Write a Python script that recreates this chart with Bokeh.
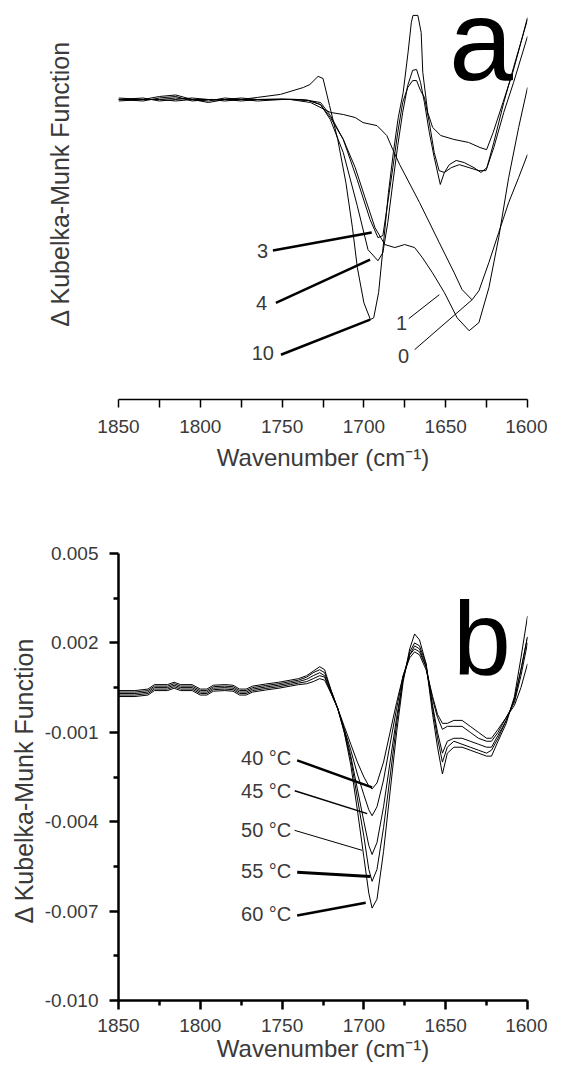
from bokeh.plotting import figure
from bokeh.models import Range1d, FixedTicker, PrintfTickFormatter, Label, ColumnDataSource
from bokeh.layouts import column
from bokeh.embed import file_html
from bokeh.resources import INLINE
from bokeh.core.properties import value

FONT = "Liberation Sans"
TXT = "#3a3a3a"

# ---------------- axis ticks ----------------
wn_ticks = [1850, 1800, 1750, 1700, 1650, 1600]
wn_minor = [1825, 1775, 1725, 1675, 1625]
b_yticks = [0.005, 0.002, -0.001, -0.004, -0.007, -0.010]
b_yminor = [0.0035, 0.0005, -0.0025, -0.0055, -0.0085]

# ---------------- panel a (relative units, x1e-3) ----------------
a_wn_10 = [1850, 1835, 1825, 1815, 1805, 1795, 1785, 1775, 1765, 1751, 1737, 1733, 1728, 1725, 1721,
           1716, 1711, 1707, 1704, 1700, 1696, 1694, 1691, 1688, 1685, 1682, 1679, 1676, 1673, 1671,
           1670, 1667, 1665, 1664, 1661, 1658, 1653, 1645, 1636, 1629, 1625, 1621, 1615, 1609, 1604, 1600]
a_km_10 = [0.35, 0.3, 0.4, 0.45, 0.3, 0.25, 0.35, 0.3, 0.37, 0.47, 0.7, 0.8, 1.07, 1.0, 0.1,
           -1.03, -2.47, -3.97, -5.3, -6.47, -7.03, -6.97, -6.13, -4.47, -2.8, -1.47, -0.3, 0.53, 1.87, 2.87,
           3.1, 3.1, 2.53, 1.2, -0.13, -0.63, -0.9, -1.03, -1.13, -1.3, -1.37, -0.8, 0.2, 1.2, 2.2, 3.03]

a_wn_4 = [1850, 1835, 1825, 1815, 1805, 1795, 1785, 1775, 1765, 1750, 1740, 1734, 1726.5, 1720.5, 1712.6,
          1704.1, 1697.5, 1691.4, 1688.4, 1685.4, 1682.3, 1679.3, 1676.3, 1673.2, 1670.2, 1667.8, 1665.4,
          1663, 1660, 1657, 1653.3, 1650.8, 1647.8, 1643.6, 1638.7, 1632.7, 1628.5, 1624.8, 1620.6, 1614.5,
          1608.5, 1600]
a_km_4 = [0.3, 0.25, 0.35, 0.4, 0.25, 0.3, 0.3, 0.25, 0.3, 0.32, 0.3, 0.27, 0.13, -0.37, -1.47,
          -3.23, -4.7, -5.07, -4.8, -3.8, -2.47, -1.23, -0.13, 0.77, 1.27, 1.3, 0.87,
          0.2, -0.8, -1.63, -2.53, -2.13, -1.87, -1.73, -1.8, -1.97, -2.13, -1.97, -1.13, 0.2,
          1.37, 2.97]

a_wn_3 = [1850, 1835, 1825, 1815, 1805, 1795, 1785, 1775, 1765, 1750, 1740, 1734, 1726.5, 1720.5, 1712.6,
          1704.1, 1696.2, 1691.4, 1688.4, 1685.4, 1682.3, 1679.3, 1676.3, 1673.2, 1670.2, 1667.8, 1665.4,
          1663, 1660, 1657, 1654, 1650.8, 1646.6, 1641.7, 1635.7, 1629.7, 1625.4, 1620.6, 1614.5, 1608.5, 1600]
a_km_3 = [0.25, 0.3, 0.3, 0.35, 0.3, 0.2, 0.3, 0.3, 0.25, 0.3, 0.3, 0.27, 0.2, -0.23, -1.03,
          -2.37, -3.7, -4.3, -4.23, -3.13, -1.97, -0.8, 0.2, 0.7, 0.93, 0.93, 0.6,
          0.37, -0.47, -1.47, -2.07, -2.13, -1.97, -1.87, -1.97, -2.07, -2.07, -1.3, -0.13, 0.87, 2.4]

a_wn_1 = [1850, 1835, 1825, 1815, 1805, 1795, 1785, 1775, 1765, 1755, 1745, 1734, 1726.5, 1720.5, 1712.6,
          1705.3, 1699.3, 1693.2, 1687.2, 1681.1, 1675.1, 1669, 1664.2, 1658.1, 1650.8, 1643, 1635.7,
          1629.7, 1623.6, 1617.6, 1611.5, 1605.4, 1600]
a_km_1 = [0.3, 0.35, 0.25, 0.3, 0.35, 0.3, 0.25, 0.3, 0.3, 0.3, 0.3, 0.27, 0.13, -0.3, -1.03,
          -1.97, -2.97, -3.97, -4.53, -4.63, -4.53, -4.63, -4.97, -5.47, -6.13, -6.97, -7.4,
          -7.13, -5.97, -4.3, -2.3, -0.63, 0.7]

a_wn_0 = [1850, 1835, 1825, 1815, 1805, 1795, 1785, 1775, 1765, 1755, 1745, 1732.6, 1720.5, 1712.6,
          1705.3, 1700.5, 1692, 1686, 1682.3, 1678.1, 1666, 1653.9, 1644.8, 1640, 1633.9, 1629.7,
          1623.6, 1617.6, 1611.5, 1605.4, 1600]
a_km_0 = [0.3, 0.3, 0.3, 0.25, 0.3, 0.3, 0.3, 0.35, 0.3, 0.3, 0.3, 0.2, -0.13, -0.2,
          -0.3, -0.47, -0.57, -0.9, -1.37, -1.87, -3.13, -4.47, -5.47, -6.03, -6.37, -6.07,
          -5.13, -4.13, -3.13, -2.3, -1.53]

a_series = [(a_wn_0, a_km_0), (a_wn_1, a_km_1), (a_wn_3, a_km_3), (a_wn_4, a_km_4), (a_wn_10, a_km_10)]

# labels of panel a: text, anchor, leader line
a_lab_text = ["3", "4", "10", "1", "0"]
a_lab_x = [1758.6, 1759.2, 1755.0, 1677.0, 1675.7]
a_lab_y = [-4.73, -6.47, -8.13, -7.13, -8.23]
a_lab_align = ["right", "right", "right", "center", "center"]
a_lead_x0 = [1755.6, 1753.8, 1750.7, 1672.6, 1669.0]
a_lead_y0 = [-4.73, -6.47, -8.20, -7.00, -8.03]
a_lead_x1 = [1695.2, 1696.2, 1696.2, 1653.9, 1633.9]
a_lead_y1 = [-4.13, -5.03, -7.03, -6.20, -6.37]
a_lead_w = [2.5, 2.5, 2.5, 1.0, 1.0]

# ---------------- panel b ----------------
b_wn = [1850, 1840, 1832, 1828, 1820, 1816, 1812, 1805, 1800, 1796, 1792, 1785, 1780, 1776, 1772,
        1768, 1760, 1752, 1745, 1740, 1735, 1731, 1727, 1724, 1720, 1716, 1712, 1708, 1704, 1700,
        1697, 1695, 1692, 1688, 1684, 1680, 1676, 1672, 1669, 1666, 1662, 1658, 1655, 1652, 1649,
        1645, 1640, 1635, 1630, 1625, 1622, 1618, 1613, 1608, 1604, 1600]
b_40 = [0.0002, 0.0002, 0.00025, 0.0004, 0.0004, 0.00048, 0.0004, 0.0004, 0.00025, 0.00025, 0.00038,
        0.0004, 0.00038, 0.00025, 0.00025, 0.00035, 0.00042, 0.00048, 0.00055, 0.0006, 0.00063, 0.0007,
        0.0008, 0.00075, 0.0003, -0.0002, -0.0008, -0.0014, -0.0020, -0.0025, -0.0028, -0.0029, -0.0027,
        -0.0020, -0.0010, 0.0000, 0.0009, 0.0015, 0.0017, 0.0016, 0.0011, 0.0002, -0.0004, -0.0007,
        -0.0007, -0.0006, -0.0006, -0.0008, -0.0010, -0.0012, -0.0012, -0.0009, -0.0005, -0.0001,
        0.0005, 0.0013]
b_45 = [0.00025, 0.00025, 0.0003, 0.00045, 0.00045, 0.00053, 0.00045, 0.00045, 0.0003, 0.0003, 0.00043,
        0.00045, 0.00043, 0.0003, 0.0003, 0.0004, 0.00047, 0.00053, 0.0006, 0.00065, 0.0007, 0.0008,
        0.0009, 0.00085, 0.0003, -0.0002, -0.0009, -0.0016, -0.0024, -0.0031, -0.0036, -0.0038, -0.0035,
        -0.0026, -0.0014, -0.0002, 0.0009, 0.0016, 0.0018, 0.0017, 0.0012, 0.0001, -0.0005, -0.0009,
        -0.0008, -0.0008, -0.0008, -0.0010, -0.0012, -0.0013, -0.0013, -0.0010, -0.0005, 0.0000,
        0.0009, 0.0020]
b_50 = [0.0003, 0.0003, 0.00035, 0.0005, 0.0005, 0.00058, 0.0005, 0.0005, 0.00035, 0.00035, 0.00048,
        0.0005, 0.00048, 0.00035, 0.00035, 0.00045, 0.00052, 0.00058, 0.00065, 0.0007, 0.00078, 0.0009,
        0.0010, 0.0009, 0.00035, -0.0002, -0.0009, -0.0018, -0.0029, -0.0040, -0.0048, -0.0051, -0.0047,
        -0.0035, -0.0020, -0.0005, 0.0008, 0.0016, 0.0019, 0.0018, 0.0012, -0.0001, -0.0010, -0.0017,
        -0.0013, -0.0012, -0.0012, -0.0013, -0.0014, -0.0015, -0.0015, -0.0011, -0.0006, 0.0001,
        0.0011, 0.0022]
b_55 = [0.00035, 0.00035, 0.0004, 0.00055, 0.00055, 0.00063, 0.00055, 0.00055, 0.0004, 0.0004, 0.00053,
        0.00055, 0.00053, 0.0004, 0.0004, 0.0005, 0.00057, 0.00063, 0.0007, 0.00075, 0.00085, 0.0010,
        0.0011, 0.0010, 0.0004, -0.0002, -0.0010, -0.0019, -0.0032, -0.0045, -0.0056, -0.0060, -0.0056,
        -0.0042, -0.0025, -0.0007, 0.0008, 0.0017, 0.0020, 0.0019, 0.0013, -0.0002, -0.0012, -0.0020,
        -0.0015, -0.0013, -0.0014, -0.0015, -0.0016, -0.0017, -0.0016, -0.0012, -0.0006, 0.0001,
        0.0011, 0.0022]
b_60 = [0.0004, 0.0004, 0.00045, 0.0006, 0.0006, 0.00068, 0.0006, 0.0006, 0.00045, 0.00045, 0.00058,
        0.0006, 0.00058, 0.00045, 0.00045, 0.00055, 0.00062, 0.00068, 0.00075, 0.0008, 0.0009, 0.00105,
        0.0012, 0.0011, 0.0004, -0.0002, -0.0010, -0.0021, -0.0036, -0.0052, -0.0064, -0.0069, -0.0066,
        -0.0050, -0.0030, -0.0010, 0.0007, 0.0018, 0.0023, 0.0021, 0.0013, -0.0004, -0.0015, -0.0024,
        -0.0017, -0.0015, -0.0015, -0.0016, -0.0017, -0.0018, -0.0018, -0.0013, -0.0007, 0.0002,
        0.0015, 0.0029]
b_series = [b_40, b_45, b_50, b_55, b_60]

b_lab_text = ["40 \u00b0C", "45 \u00b0C", "50 \u00b0C", "55 \u00b0C", "60 \u00b0C"]
b_lab_x = [1744.4, 1744.4, 1744.4, 1744.4, 1744.4]
b_lab_y = [-0.00185, -0.00296, -0.00429, -0.00567, -0.0071]
b_lead_x0 = [1740.8, 1742.3, 1742.4, 1740.8, 1740.8]
b_lead_y0 = [-0.00194, -0.00296, -0.00429, -0.0057, -0.00715]
b_lead_x1 = [1695.0, 1698.0, 1701.1, 1696.0, 1698.9]
b_lead_y1 = [-0.00285, -0.00373, -0.00496, -0.00584, -0.00672]
b_lead_w = [2.5, 1.5, 1.0, 3.0, 2.5]

XTITLE = "Wavenumber (cm\u207b\u00b9)"
YTITLE = "\u0394  Kubelka-Munk Function"
# panel a's title sits higher than the centre of its frame: pad its lower end
YTITLE_A = "\u00a0" * 6 + YTITLE


def style_common(p):
    p.outline_line_color = None
    p.grid.visible = False
    p.background_fill_color = "white"
    p.border_fill_color = "white"


def style_xaxis(ax, tick_len_major, tick_len_minor, lw, standoff, title_standoff):
    ax.ticker = FixedTicker(ticks=wn_ticks, minor_ticks=wn_minor)
    ax.axis_line_width = lw
    ax.axis_line_color = "black"
    ax.major_tick_in = 0
    ax.major_tick_out = tick_len_major
    ax.minor_tick_in = 0
    ax.minor_tick_out = tick_len_minor
    ax.major_tick_line_width = lw
    ax.minor_tick_line_width = lw
    ax.major_tick_line_color = "black"
    ax.minor_tick_line_color = "black"
    ax.major_label_text_font = FONT
    ax.major_label_text_font_size = "19px"
    ax.major_label_text_color = TXT
    ax.major_label_standoff = standoff
    ax.axis_label = XTITLE
    ax.axis_label_text_font = FONT
    ax.axis_label_text_font_size = "24px"
    ax.axis_label_text_font_style = "normal"
    ax.axis_label_text_color = TXT
    ax.axis_label_standoff = title_standoff


def style_ytitle(ax, text, standoff):
    ax.axis_label = text
    ax.axis_label_text_font = FONT
    ax.axis_label_text_font_size = "25px"
    ax.axis_label_text_font_style = "normal"
    ax.axis_label_text_color = TXT
    ax.axis_label_standoff = standoff


# ---------------- figure a ----------------
pa = figure(width=547, height=512, x_range=Range1d(1850, 1600), y_range=Range1d(-9.69, 3.53),
            output_backend="svg", toolbar_location=None,
            min_border_left=118, min_border_right=16, min_border_top=2, min_border_bottom=113)
style_common(pa)
style_xaxis(pa.xaxis[0], 8, 8, 1.5, 12, 8)

ay = pa.yaxis[0]
ay.ticker = FixedTicker(ticks=[])
ay.axis_line_color = None
ay.major_tick_line_color = None
ay.minor_tick_line_color = None
ay.major_tick_in = 0
ay.major_tick_out = 0
ay.minor_tick_in = 0
ay.minor_tick_out = 0
style_ytitle(ay, YTITLE_A, 45)

for wn, km in a_series:
    pa.line(wn, km, line_color="black", line_width=1)

pa.segment(x0=a_lead_x0, y0=a_lead_y0, x1=a_lead_x1, y1=a_lead_y1, line_color="black",
           line_width=a_lead_w)
src_a = ColumnDataSource(dict(x=a_lab_x, y=a_lab_y, t=a_lab_text, al=a_lab_align))
pa.text(x="x", y="y", text="t", text_align="al", text_baseline="middle", source=src_a,
        text_font=value(FONT), text_font_size="20px", text_color=TXT)

pa.add_layout(Label(x=1628.5, y=2.27, text="a", text_align="center", text_baseline="alphabetic",
                    text_font=FONT, text_font_size="115px", text_color="black"))

# ---------------- figure b ----------------
pb = figure(width=547, height=554, x_range=Range1d(1850, 1600), y_range=Range1d(-0.010, 0.005),
            output_backend="svg", toolbar_location=None,
            min_border_left=114, min_border_right=20, min_border_top=41, min_border_bottom=66)
style_common(pb)
style_xaxis(pb.xaxis[0], 9, 5, 2.5, 9, 0)

yb = pb.yaxis[0]
yb.ticker = FixedTicker(ticks=b_yticks, minor_ticks=b_yminor)
yb.formatter = PrintfTickFormatter(format="%.3f")
yb.axis_line_width = 2.5
yb.major_tick_in = 0
yb.major_tick_out = 9
yb.minor_tick_in = 0
yb.minor_tick_out = 5
yb.major_tick_line_width = 2.5
yb.minor_tick_line_width = 2.5
yb.major_label_text_font = FONT
yb.major_label_text_font_size = "19px"
yb.major_label_text_color = TXT
yb.major_label_standoff = 11
style_ytitle(yb, YTITLE, 4)

for series in b_series:
    pb.line(b_wn, series, line_color="black", line_width=1)

pb.segment(x0=b_lead_x0, y0=b_lead_y0, x1=b_lead_x1, y1=b_lead_y1, line_color="black",
           line_width=b_lead_w)
src_b = ColumnDataSource(dict(x=b_lab_x, y=b_lab_y, t=b_lab_text))
pb.text(x="x", y="y", text="t", text_align="right", text_baseline="middle", source=src_b,
        text_font=value(FONT), text_font_size="20px", text_color=TXT)

pb.add_layout(Label(x=1627.8, y=0.00218, text="b", text_align="center", text_baseline="alphabetic",
                    text_font=FONT, text_font_size="104px", text_color="black"))

layout = column(pa, pb, spacing=0)
open("out.html", "w").write(file_html(layout, INLINE))
